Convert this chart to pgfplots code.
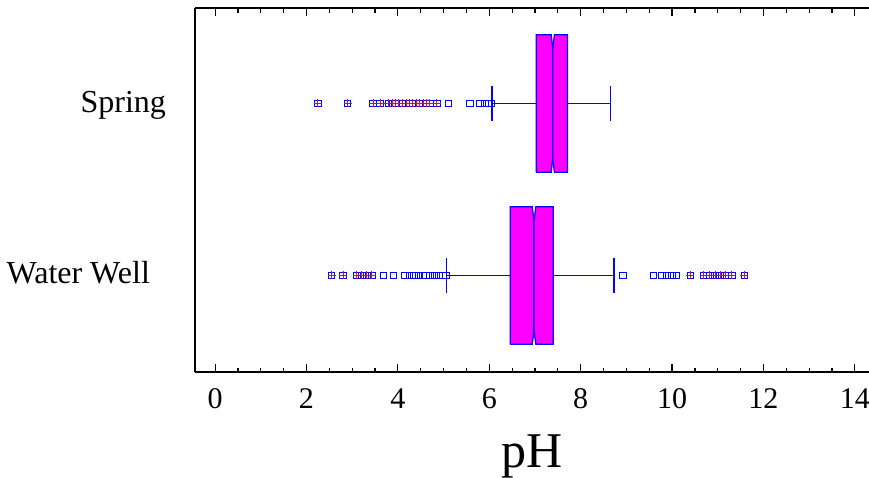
\documentclass[border=0pt]{standalone}
\usepackage{fontspec}
\setmainfont{Liberation Serif}
\usepackage{pgfplots}
\pgfplotsset{compat=1.18}
\definecolor{boxfill}{RGB}{255,0,255}
\definecolor{boxline}{RGB}{0,0,255}
\definecolor{farred}{RGB}{255,0,0}
\begin{document}
\begin{tikzpicture}[x=1pt,y=1pt]
\begin{axis}[
  at={(195pt,105pt)}, anchor=south west,
  scale only axis, width=674pt, height=364pt,
  xmin=-0.44, xmax=14.31, ymin=0.439, ymax=2.555,
  axis x line*=box, axis y line*=left,
  ytick=\empty,
  xtick={0,2,...,14}, minor x tick num=3,
  tick align=inside,
  major tick length=8pt, minor tick length=4.5pt,
  axis line style={line width=1.6pt, black},
  every tick/.style={line width=1.2pt, black},
  /pgf/number format/assume math mode=true,
  ticklabel style={font=\fontsize{30}{36}\selectfont},
  xticklabel style={yshift=-13pt},
  xlabel={pH}, xlabel style={font=\fontsize{50}{60}\selectfont, yshift=-19pt},
  clip=false,
]
% Spring box (y=2)
\addplot[fill=boxfill, draw=boxline, line width=1.2pt] coordinates {
 (7.03,1.6) (7.03,2.4) (7.355,2.4) (7.39,2.32) (7.39,1.68) (7.355,1.6) (7.03,1.6)};
\addplot[fill=boxfill, draw=boxline, line width=1.2pt] coordinates {
 (7.39,1.68) (7.39,2.32) (7.425,2.4) (7.71,2.4) (7.71,1.6) (7.425,1.6) (7.39,1.68)};
% Spring whiskers
\addplot[boxline, line width=1.3pt] coordinates {(6.06,2) (7.03,2)};
\addplot[boxline, line width=1.3pt] coordinates {(7.71,2) (8.65,2)};
\addplot[boxline, line width=1.3pt] coordinates {(6.06,1.9) (6.06,2.1)};
\addplot[boxline, line width=1.3pt] coordinates {(8.65,1.9) (8.65,2.1)};
% Water Well box (y=1)
\addplot[fill=boxfill, draw=boxline, line width=1.2pt] coordinates {
 (6.46,0.6) (6.46,1.4) (6.94,1.4) (6.98,1.32) (6.98,0.68) (6.94,0.6) (6.46,0.6)};
\addplot[fill=boxfill, draw=boxline, line width=1.2pt] coordinates {
 (6.98,0.68) (6.98,1.32) (7.02,1.4) (7.40,1.4) (7.40,0.6) (7.02,0.6) (6.98,0.68)};
\addplot[boxline, line width=1.3pt] coordinates {(5.06,1) (6.46,1)};
\addplot[boxline, line width=1.3pt] coordinates {(7.40,1) (8.73,1)};
\addplot[boxline, line width=1.3pt] coordinates {(5.06,0.9) (5.06,1.1)};
\addplot[boxline, line width=1.3pt] coordinates {(8.73,0.9) (8.73,1.1)};
% outliers: all shown as squares
\addplot[only marks, mark=square, mark size=3.3pt, boxline, line width=0.9pt] coordinates {
 (2.25,2) (2.90,2) (3.46,2) (3.61,2) (3.79,2) (3.88,2) (3.95,2) (4.02,2) (4.10,2) (4.18,2)
 (4.25,2) (4.32,2) (4.40,2) (4.48,2) (4.55,2) (4.62,2) (4.70,2) (4.85,2)
 (5.11,2) (5.58,2) (5.80,2) (5.91,2) (5.98,2) (6.05,2)
 (2.55,1) (2.80,1) (3.10,1) (3.21,1) (3.32,1) (3.43,1) (3.68,1) (3.90,1)
 (4.16,1) (4.25,1) (4.35,1) (4.45,1) (4.55,1) (4.62,1) (4.70,1) (4.80,1) (4.90,1) (4.98,1) (5.05,1)
 (8.93,1) (9.59,1) (9.78,1) (9.89,1) (10.00,1) (10.10,1)
 (10.40,1) (10.69,1) (10.83,1) (10.94,1) (11.05,1) (11.16,1) (11.31,1) (11.58,1)};
% far outside: red plus
\addplot[only marks, mark=+, mark size=4pt, farred, line width=1pt] coordinates {
 (2.25,2) (2.90,2) (3.46,2) (3.61,2) (3.79,2) (3.88,2) (3.95,2) (4.02,2) (4.10,2) (4.18,2)
 (4.25,2) (4.32,2) (4.40,2) (4.48,2) (4.55,2) (4.62,2) (4.70,2) (4.85,2)
 (2.55,1) (2.80,1) (3.10,1) (3.21,1) (3.32,1) (3.43,1)
 (10.40,1) (10.69,1) (10.83,1) (10.94,1) (11.05,1) (11.16,1) (11.31,1) (11.58,1)};
\node[anchor=base east, inner sep=0pt, font=\fontsize{32}{38}\selectfont] at (axis cs:-1.072,1.945) {Spring};
\node[anchor=base east, inner sep=0pt, font=\fontsize{32}{38}\selectfont] at (axis cs:-1.423,0.956) {Water Well};
\end{axis}
\pgfresetboundingbox
\path[use as bounding box] (0,0) rectangle (869pt,477pt);
\end{tikzpicture}
\end{document}
